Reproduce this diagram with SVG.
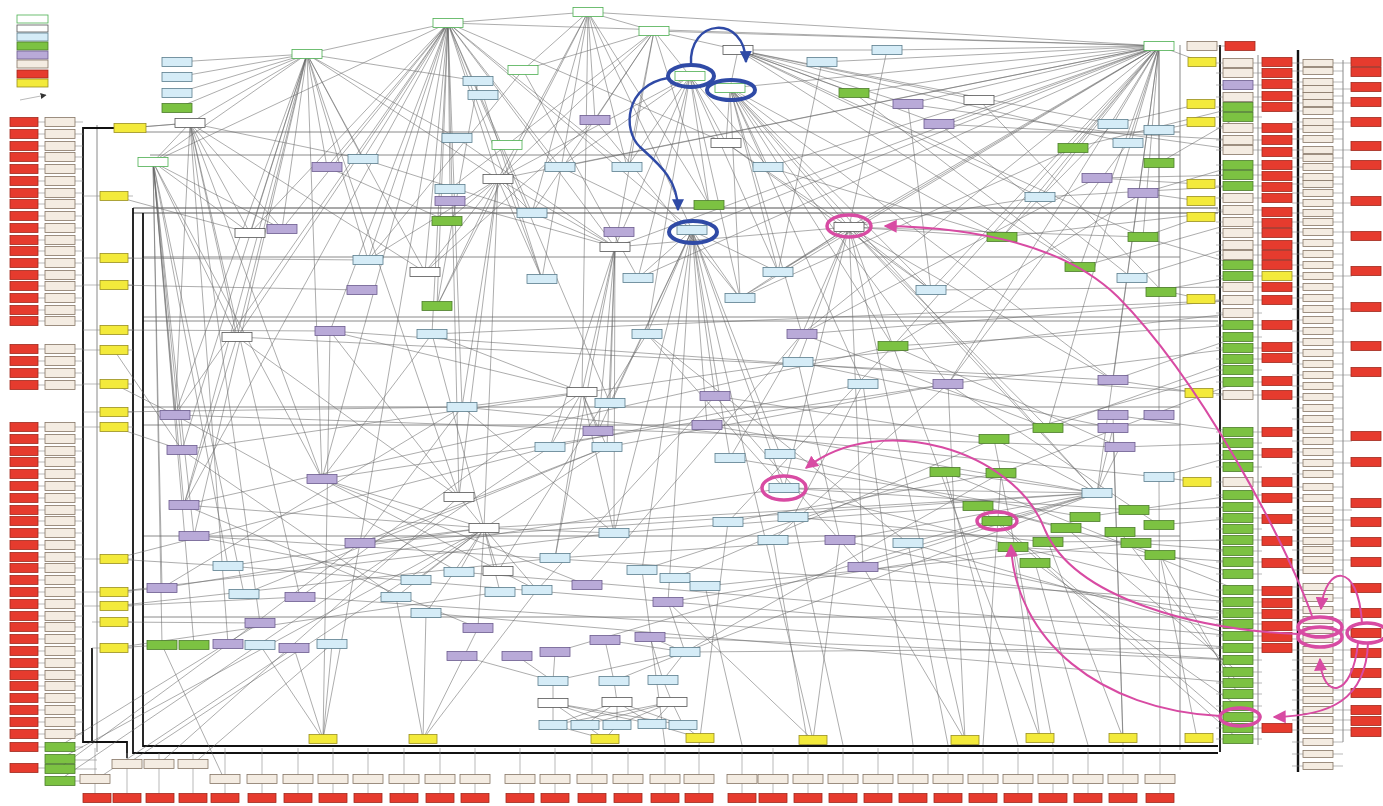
<svg xmlns="http://www.w3.org/2000/svg" width="1383" height="806" viewBox="0 0 1383 806">
<style>
.e{stroke:#666;stroke-width:.6;fill:none;opacity:.9}
.s{stroke:#8c8c8c;stroke-width:.6;fill:none}
.f{stroke:#8a8a8a;stroke-width:1;fill:none}
.fd{stroke:#555;stroke-width:1.1;fill:none}
.k{stroke:#111;stroke-width:1.8;fill:none}
rect{stroke-width:.8}
.gb{fill:#fff;stroke:#4caf50}
.wh{fill:#fff;stroke:#555}
.lb{fill:#d5ecf7;stroke:#5a7d8c}
.gr{fill:#7cc242;stroke:#4d7d2b}
.pu{fill:#b9aad8;stroke:#6b5b8e}
.be{fill:#f4ece2;stroke:#857565}
.rd{fill:#e63b2e;stroke:#a0281d}
.ye{fill:#f3ea3b;stroke:#9a8f20}
.bl{stroke:#2f4aa6;stroke-width:4;fill:none}
.bla{stroke:#2f4aa6;stroke-width:2.4;fill:none}
.mg{stroke:#d84ba3;stroke-width:3.5;fill:none}
.mga{stroke:#d84ba3;stroke-width:2;fill:none}
</style>
<defs>
<marker id="ab" viewBox="0 0 10 10" markerWidth="12" markerHeight="12" refX="9" refY="5" orient="auto" markerUnits="userSpaceOnUse"><path d="M0 0L10 5L0 10z" fill="#2f4aa6"/></marker>
<marker id="am" viewBox="0 0 10 10" markerWidth="13" markerHeight="13" refX="9" refY="5" orient="auto" markerUnits="userSpaceOnUse"><path d="M0 0L10 5L0 10z" fill="#d84ba3"/></marker>
<marker id="ak" viewBox="0 0 10 10" markerWidth="6" markerHeight="6" refX="9" refY="5" orient="auto" markerUnits="userSpaceOnUse"><path d="M0 0L10 5L0 10z" fill="#333"/></marker>
</defs>
<rect width="1383" height="806" fill="#fff"/>

<g id="legend">
<rect class="gb" x="17" y="15" width="31" height="8"/>
<rect class="wh" x="17" y="25" width="31" height="7"/>
<rect class="lb" x="17" y="33" width="31" height="8"/>
<rect class="gr" x="17" y="42" width="31" height="8"/>
<rect class="pu" x="17" y="51" width="31" height="8"/>
<rect class="be" x="17" y="60" width="31" height="8"/>
<rect class="rd" x="17" y="70" width="31" height="8"/>
<rect class="ye" x="17" y="79" width="31" height="8"/>
<path class="s" d="M20 100L46 95" marker-end="url(#ak)"/>
</g>

<g id="connectors">
<path class="f" d="M145 132H1180M150 155H1180M143 257H1180M143 407H1180M143 425H1180M143 536H1180M143 617H1218M143 317H1218M143 321H1218M1180 45V750M97 125V752M1258 55V745M1343 60V742"/>
<path class="fd" d="M133 208H1218M133 213H1218"/>
<path class="k" d="M115 128H83V742H127V758M133 208V753H1218M143 213V746H1218M1220 45V752M92 648V742"/>
<path class="k" style="stroke-width:2.4" d="M1298 50V772"/>
<path class="s" d="M38 122H83M38 134H83M38 146H83M38 157H83M38 169H83M38 181H83M38 193H83M38 204H83M38 216H83M38 228H83M38 240H83M38 251H83M38 263H83M38 275H83M38 286H83M38 298H83M38 310H83M38 321H83M38 349H83M38 361H83M38 373H83M38 385H83M38 427H83M38 439H83M38 451H83M38 462H83M38 474H83M38 486H83M38 498H83M38 510H83M38 521H83M38 533H83M38 545H83M38 557H83M38 568H83M38 580H83M38 592H83M38 604H83M38 616H83M38 627H83M38 639H83M38 651H83M38 663H83M38 675H83M38 686H83M38 698H83M38 710H83M38 722H83M38 734H83M38 747H83M38 768H45M75 760H97M75 769H97M75 781H97"/>
<path class="s" d="M83 196H133M83 258H133M83 285H133M83 330H133M83 350H133M83 384H133M83 412H133M83 427H133M83 559H133M83 592H133M83 606H133M92 622H133M92 648H133"/>
<path class="s" d="M1216 63H1262M1216 73H1262M1216 85H1262M1216 97H1262M1216 107H1262M1216 117H1262M1216 128H1262M1216 140H1262M1216 150H1262M1216 165H1262M1216 175H1262M1216 186H1262M1216 198H1262M1216 210H1262M1216 222H1262M1216 233H1262M1216 245H1262M1216 255H1262M1216 265H1262M1216 276H1262M1216 287H1262M1216 300H1262M1216 313H1262M1216 325H1262M1216 337H1262M1216 348H1262M1216 359H1262M1216 370H1262M1216 382H1262M1216 395H1262M1216 432H1262M1216 443H1262M1216 455H1262M1216 467H1262M1216 482H1262M1216 495H1262M1216 507H1262M1216 518H1262M1216 529H1262M1216 540H1262M1216 551H1262M1216 562H1262M1216 574H1262M1216 590H1262M1216 602H1262M1216 613H1262M1216 624H1262M1216 636H1262M1216 648H1262M1216 660H1262M1216 672H1262M1216 683H1262M1216 694H1262M1216 706H1262M1216 717H1262M1216 728H1262M1216 739H1262M1215 46H1226"/>
<path class="s" d="M1292 63H1352M1292 71H1343M1292 82H1343M1292 89H1352M1292 96H1343M1292 103H1352M1292 111H1343M1292 122H1352M1292 129H1343M1292 139H1343M1292 150H1352M1292 158H1343M1292 167H1352M1292 177H1343M1292 184H1343M1292 193H1343M1292 203H1352M1292 213H1343M1292 222H1343M1292 232H1352M1292 243H1343M1292 254H1343M1292 265H1343M1292 276H1352M1292 287H1343M1292 298H1343M1292 309H1352M1292 320H1343M1292 331H1343M1292 342H1352M1292 353H1343M1292 364H1343M1292 375H1352M1292 386H1343M1292 397H1343M1292 408H1343M1292 419H1343M1292 430H1343M1292 441H1352M1292 452H1343M1292 463H1352M1292 474H1343M1292 487H1343M1292 498H1343M1292 510H1352M1292 520H1352M1292 530H1343M1292 541H1352M1292 550H1343M1292 560H1352M1292 570H1343M1292 587H1352M1292 598H1343M1292 610H1352M1292 620H1343M1292 630H1352M1292 639H1343M1292 650H1352M1292 660H1343M1292 670H1352M1292 680H1343M1292 690H1352M1292 700H1343M1292 710H1352M1292 720H1352M1292 730H1352M1292 742H1343M1292 754H1343M1292 766H1343"/>
<path class="s" d="M95 748V793M127 753V793M159 753V793M193 753V793M225 748V793M262 748V793M298 748V793M333 748V793M368 748V793M404 748V793M440 748V793M475 748V793M520 748V793M555 748V793M592 748V793M628 748V793M665 748V793M699 748V793M742 748V793M773 748V793M808 748V793M843 748V793M878 748V793M913 748V793M948 748V793M983 748V793M1018 748V793M1053 748V793M1088 748V793M1123 748V793M1160 748V793"/>
<path class="e" d="M448 23L307 54M448 23L588 12M448 23L250 233M448 23L282 229M448 23L363 159M448 23L327 167M448 23L425 272M448 23L437 306M448 23L368 260M448 23L498 179M448 23L450 189M448 23L532 213M448 23L560 167M448 23L627 167M448 23L692 230M448 23L615 247M448 23L542 279M448 23L175 415M448 23L322 479M448 23L184 505M448 23L459 497M448 23L237 337M448 23L330 331M448 23L432 334M448 23L610 403M448 23L1159 46M448 23L726 143M448 23L153 162M448 23L462 407M448 23L360 543"/>
<path class="e" d="M1159 46L887 50M1159 46L822 62M1159 46L730 88M1159 46L854 93M1159 46L908 104M1159 46L939 124M1159 46L1073 148M1159 46L1113 124M1159 46L1128 143M1159 46L1040 197M1159 46L1002 237M1159 46L849 227M1159 46L692 230M1159 46L778 272M1159 46L931 290M1159 46L1080 267M1159 46L1143 237M1159 46L893 346M1159 46L802 334M1159 46L948 384M1159 46L1113 380M1159 46L1159 415M1159 46L740 298M1159 46L638 278M1159 46L615 247M1159 46L498 179M1159 46L560 167M1159 46L768 167M1159 46L588 12M1159 46L654 31M1159 46L1097 493M1159 46L1048 428M1159 46L1202 62M1159 46V290"/>
<path class="e" d="M307 54L190 123M307 54L153 162M307 54L250 233M307 54L282 229M307 54L327 167M307 54L363 159M307 54L368 260M307 54L425 272M307 54L237 337M307 54L175 415M307 54L182 450M307 54L322 479M307 54L459 497M307 54L478 81M307 54L457 138M307 54L177 62M307 54L177 77M307 54L177 93M307 54L177 108M307 54L498 179M307 54L184 505M307 54L194 536"/>
<path class="e" d="M588 12L654 31M588 12L523 70M588 12L498 179M588 12L532 213M588 12L595 120M588 12L627 167M588 12L692 230M588 12L709 205M588 12L437 306M588 12L542 279M588 12L582 392"/>
<path class="e" d="M153 162L162 588M153 162L175 415M153 162L182 450M153 162L184 505M153 162L194 536M153 162L228 566M153 162L244 594M153 162L162 645M153 162L194 645M153 162L250 233M153 162L282 229M153 162L237 337M153 162L322 479"/>
<path class="e" d="M190 123L153 162M190 123L237 337M190 123L250 233M190 123L282 229M190 123L175 415M190 123L322 479M190 123L425 272M190 123L128 128M190 123L363 159M190 123L300 597M190 123L260 623M190 123L228 644"/>
<path class="e" d="M690 76L654 31M690 76L726 143M690 76L768 167M690 76L709 205M690 76L627 167M690 76L615 247M690 76L740 298M690 76L638 278M690 76L647 334M690 76L778 272M690 76L560 167M690 76L498 179"/>
<path class="e" d="M730 88L849 227M730 88L778 272M730 88L931 290M730 88L1002 237M730 88L768 167M730 88L740 298M730 88L802 334M730 88L863 384M730 88L948 384M730 88L1097 493M730 88L726 143M730 88L738 50M730 88L893 346M730 88L1113 380"/>
<path class="e" d="M654 31L627 167M654 31L615 247M654 31L709 205M654 31L498 179M654 31L532 213M654 31L450 189M654 31L595 120M654 31L523 70M654 31L738 50"/>
<path class="e" d="M738 50L908 104M738 50L939 124M738 50L1040 197M738 50L1113 124M738 50L1128 143M738 50L1143 237M738 50L1080 267M738 50L887 50M738 50L979 100M738 50L854 93"/>
<path class="e" d="M849 227L778 272M849 227L931 290M849 227L802 334M849 227L893 346M849 227L798 362M849 227L740 298M849 227L615 247M849 227L1002 237M849 227L1097 493M849 227L784 488M849 227L863 567M849 227L1113 380M849 227L1048 428M849 227L965 740M849 227L1143 237"/>
<path class="e" d="M498 179L532 213M498 179L447 221M498 179L437 306M498 179L542 279M498 179L615 247M498 179L462 407M498 179L459 497M498 179L484 528M498 179L425 272M498 179L368 260"/>
<path class="e" d="M692 230L638 278M692 230L740 298M692 230L647 334M692 230L715 396M692 230L707 425M692 230L610 403M692 230L598 431M692 230L614 533M692 230L642 570M692 230L668 602M692 230L730 458M692 230L780 454M692 230L784 488M692 230L813 740"/>
<path class="e" d="M615 247L582 392M615 247L610 403M615 247L598 431M615 247L550 447M615 247L607 447M615 247L555 558M615 247L614 533M615 247L532 213M615 247L450 201"/>
<path class="e" d="M1097 493L784 488M1097 493L863 567M1097 493L908 543M1097 493L840 540M1097 493L945 472M1097 493L994 439M1097 493L1113 428M1097 493L1120 447M1097 493L685 652M1097 493L555 652"/>
<path class="e" d="M484 528L459 497M484 528L459 572M484 528L498 571M484 528L416 580M484 528L396 597M484 528L500 592M484 528L537 590M484 528L478 628M484 528L360 543M484 528L614 533M484 528L1097 493M484 528L426 613M484 528L322 479M484 528L184 505"/>
<path class="e" d="M582 392L550 447M582 392L607 447M582 392L614 533M582 392L555 558M582 392L598 431M582 392L462 407M582 392L432 334"/>
<path class="e" d="M685 652L553 681M685 652L614 681M685 652L663 680M685 652L650 637M685 652L668 602M685 652L1001 473M685 652L605 640"/>
<path class="e" d="M553 681V703M614 681L617 702M663 680L672 702M553 703L553 725M553 703L585 725M553 703L617 725M553 703L652 724M553 703L683 725M617 702L553 725M617 702L585 725M617 702L617 725M617 702L652 724M617 702L683 725M672 702L553 725M672 702L585 725M672 702L617 725M672 702L652 724M672 702L683 725M553 725L605 739M585 725L605 739M617 725L605 739M652 724L700 738M683 725L700 738M555 652L553 681M605 640L614 681M650 637L663 680M517 656L553 681M462 656L553 681"/>
<path class="e" d="M260 645L323 739M332 644L323 739M294 648L323 739M360 543L323 739M330 331L323 739M478 628L423 739M537 590L423 739M396 597L423 739M426 613L423 739M668 602L813 740M840 540L813 740M863 567L965 740M948 384L965 740M1013 547L1040 738M893 346L1040 738M1048 542L1123 738M1113 428L1123 738M1160 555L1197 738"/>
<path class="e" d="M114 559L228 566M114 592L162 588M114 606L300 597M114 622L260 623M114 648L162 645M114 330L330 331M114 350L182 450M114 384L175 415M114 412L462 407M114 427L182 450M114 196L250 233M114 258L368 260M114 285L362 290M128 128L190 123M58 747L260 623M58 760L484 528M58 769L228 644M58 781L550 447M97 779L294 648M127 764L607 447M159 764L459 497M193 764L332 644M225 781L162 645M114 592L614 533M114 606L555 558M114 559L550 447M114 648L500 592"/>
<path class="e" d="M1238 107L1073 148M1238 117L1159 163M1238 165L1143 193M1238 175L1097 178M1238 186L1040 197M1238 265L1143 237M1238 276L1161 290M1238 140L939 124M1238 150L908 104M1238 210L1002 237M1238 222L1080 267M1238 245L1132 278M1238 287L931 290M1238 300L802 334M1238 313L798 362M1238 325L893 346M1238 337L1113 380M1238 348L948 384M1238 359L1048 428M1238 370L994 439M1238 382L1001 473M1238 432L1113 415M1238 443L1120 447M1238 455L1159 477M1238 495L1085 517M1238 507L1134 510M1238 518L1159 525M1238 540L1048 542M1238 551L1136 543M1238 562L1013 547M1238 574L978 506M1238 590L945 472M1238 602L784 488M1238 613L863 567M1238 624L840 540M1238 636L908 543M1238 648L685 652M1238 660L650 637M1238 672L1066 528M1238 683L1120 532M1238 694L1160 555M1238 706L1035 563M1238 728L997 521M1238 739L978 506"/>
<path class="e" d="M1201 299L1161 290M1199 393L1113 380M1197 482L1159 477M1200 217L1143 237M1200 122L1159 130M1200 104L1113 124M1200 184L1097 178M1200 201L1143 193"/>
<path class="e" d="M237 337L1113 380M175 415L1120 447M330 331L1238 395M432 334L1238 300M462 407L1159 477M360 543L1097 493M194 536L1238 602M162 588L784 488M228 566L1238 648M300 597L1238 660M426 613L1238 683M459 572L1238 636M182 450L798 362M322 479L948 384M184 505L893 346M642 570L665 745M705 586L742 745M773 540L808 745M1035 563L1088 745M793 517L843 745M728 522L699 745M908 543L948 745"/>
<path class="e" d="M330 331L582 392M330 331L459 497M237 337L459 497M237 337L184 505M432 334L322 479M432 334L484 528M462 407L360 543M462 407L614 533M175 415L459 572M182 450L396 597M322 479L587 585M322 479L537 590M184 505L478 628M194 536L416 580M360 543L607 447M360 543L228 644M228 566L484 528M244 594L607 447M300 597L582 392M162 588L462 407M647 334L784 488M647 334L908 543M715 396L863 567M715 396L994 439M707 425L1097 493M802 334L730 458M802 334L1048 428M798 362L840 540M798 362L1113 428M863 384L793 517M948 384L773 540M948 384L1159 525M893 346L728 522M893 346L1120 447M730 458L1085 517M780 454L1066 528M784 488L1134 510M793 517L1048 542M728 522L1001 473M642 570L945 472M675 578L994 439M705 586L1136 543M668 602L1013 547M614 533L978 506M550 447L863 384M607 447L948 384M555 558L840 540M587 585L802 334M537 590L715 396M498 571L647 334"/>
<path class="e" d="M363 159L532 213M327 167L447 221M457 138L615 247M478 81L437 306M483 95L542 279M523 70L368 260M523 70L638 278M595 120L425 272M595 120L740 298M560 167L778 272M726 143L849 227M726 143L931 290M768 167L1002 237M822 62L778 272M887 50L849 227M854 93L1080 267M908 104L931 290M939 124L1132 278M979 100L1161 290M1040 197L849 227M1113 124L1002 237M1073 148L740 298M1097 178L802 334M1143 193L893 346M1128 143L948 384M945 472L1018 745M994 439L1053 745M863 384L913 745M1113 415L1123 745M1001 473L983 745M1159 477L1160 745"/>
</g>

<g id="nodes">
<g id="u1" transform="translate(588,12)"><rect class="gb" x="-15" y="-4.5" width="30" height="9"/></g>
<g id="u2" transform="translate(448,23)"><rect class="gb" x="-15" y="-4.5" width="30" height="9"/></g>
<g id="u3" transform="translate(654,31)"><rect class="gb" x="-15" y="-4.5" width="30" height="9"/></g>
<g id="u4" transform="translate(307,54)"><rect class="gb" x="-15" y="-4.5" width="30" height="9"/></g>
<g id="u5" transform="translate(523,70)"><rect class="gb" x="-15" y="-4.5" width="30" height="9"/></g>
<g id="u6" transform="translate(1159,46)"><rect class="gb" x="-15" y="-4.5" width="30" height="9"/></g>
<g id="u7" transform="translate(153,162)"><rect class="gb" x="-15" y="-4.5" width="30" height="9"/></g>
<g id="u8" transform="translate(507,145)"><rect class="gb" x="-15" y="-4.5" width="30" height="9"/></g>
<g id="u9" transform="translate(690,76)"><rect class="gb" x="-15" y="-4.5" width="30" height="9"/></g>
<g id="u10" transform="translate(730,88)"><rect class="gb" x="-15" y="-4.5" width="30" height="9"/></g>
<g id="u11" transform="translate(738,50)"><rect class="wh" x="-15" y="-4.5" width="30" height="9"/></g>
<g id="u12" transform="translate(190,123)"><rect class="wh" x="-15" y="-4.5" width="30" height="9"/></g>
<g id="u13" transform="translate(498,179)"><rect class="wh" x="-15" y="-4.5" width="30" height="9"/></g>
<g id="u14" transform="translate(726,143)"><rect class="wh" x="-15" y="-4.5" width="30" height="9"/></g>
<g id="u15" transform="translate(979,100)"><rect class="wh" x="-15" y="-4.5" width="30" height="9"/></g>
<g id="u16" transform="translate(177,62)"><rect class="lb" x="-15" y="-4.5" width="30" height="9"/></g>
<g id="u17" transform="translate(177,77)"><rect class="lb" x="-15" y="-4.5" width="30" height="9"/></g>
<g id="u18" transform="translate(177,93)"><rect class="lb" x="-15" y="-4.5" width="30" height="9"/></g>
<g id="u19" transform="translate(887,50)"><rect class="lb" x="-15" y="-4.5" width="30" height="9"/></g>
<g id="u20" transform="translate(822,62)"><rect class="lb" x="-15" y="-4.5" width="30" height="9"/></g>
<g id="u21" transform="translate(478,81)"><rect class="lb" x="-15" y="-4.5" width="30" height="9"/></g>
<g id="u22" transform="translate(483,95)"><rect class="lb" x="-15" y="-4.5" width="30" height="9"/></g>
<g id="u23" transform="translate(457,138)"><rect class="lb" x="-15" y="-4.5" width="30" height="9"/></g>
<g id="u24" transform="translate(363,159)"><rect class="lb" x="-15" y="-4.5" width="30" height="9"/></g>
<g id="u25" transform="translate(560,167)"><rect class="lb" x="-15" y="-4.5" width="30" height="9"/></g>
<g id="u26" transform="translate(450,189)"><rect class="lb" x="-15" y="-4.5" width="30" height="9"/></g>
<g id="u27" transform="translate(627,167)"><rect class="lb" x="-15" y="-4.5" width="30" height="9"/></g>
<g id="u28" transform="translate(768,167)"><rect class="lb" x="-15" y="-4.5" width="30" height="9"/></g>
<g id="u29" transform="translate(1113,124)"><rect class="lb" x="-15" y="-4.5" width="30" height="9"/></g>
<g id="u30" transform="translate(1159,130)"><rect class="lb" x="-15" y="-4.5" width="30" height="9"/></g>
<g id="u31" transform="translate(1128,143)"><rect class="lb" x="-15" y="-4.5" width="30" height="9"/></g>
<g id="u32" transform="translate(1040,197)"><rect class="lb" x="-15" y="-4.5" width="30" height="9"/></g>
<g id="u33" transform="translate(177,108)"><rect class="gr" x="-15" y="-4.5" width="30" height="9"/></g>
<g id="u34" transform="translate(854,93)"><rect class="gr" x="-15" y="-4.5" width="30" height="9"/></g>
<g id="u35" transform="translate(1073,148)"><rect class="gr" x="-15" y="-4.5" width="30" height="9"/></g>
<g id="u36" transform="translate(1159,163)"><rect class="gr" x="-15" y="-4.5" width="30" height="9"/></g>
<g id="u37" transform="translate(709,205)"><rect class="gr" x="-15" y="-4.5" width="30" height="9"/></g>
<g id="u38" transform="translate(595,120)"><rect class="pu" x="-15" y="-4.5" width="30" height="9"/></g>
<g id="u39" transform="translate(908,104)"><rect class="pu" x="-15" y="-4.5" width="30" height="9"/></g>
<g id="u40" transform="translate(939,124)"><rect class="pu" x="-15" y="-4.5" width="30" height="9"/></g>
<g id="u41" transform="translate(327,167)"><rect class="pu" x="-15" y="-4.5" width="30" height="9"/></g>
<g id="u42" transform="translate(450,201)"><rect class="pu" x="-15" y="-4.5" width="30" height="9"/></g>
<g id="u43" transform="translate(1097,178)"><rect class="pu" x="-15" y="-4.5" width="30" height="9"/></g>
<g id="u44" transform="translate(1143,193)"><rect class="pu" x="-15" y="-4.5" width="30" height="9"/></g>
<g id="m1" transform="translate(532,213)"><rect class="lb" x="-15" y="-4.5" width="30" height="9"/></g>
<g id="m2" transform="translate(368,260)"><rect class="lb" x="-15" y="-4.5" width="30" height="9"/></g>
<g id="m3" transform="translate(542,279)"><rect class="lb" x="-15" y="-4.5" width="30" height="9"/></g>
<g id="m4" transform="translate(638,278)"><rect class="lb" x="-15" y="-4.5" width="30" height="9"/></g>
<g id="m5" transform="translate(778,272)"><rect class="lb" x="-15" y="-4.5" width="30" height="9"/></g>
<g id="m6" transform="translate(740,298)"><rect class="lb" x="-15" y="-4.5" width="30" height="9"/></g>
<g id="m7" transform="translate(931,290)"><rect class="lb" x="-15" y="-4.5" width="30" height="9"/></g>
<g id="m8" transform="translate(1132,278)"><rect class="lb" x="-15" y="-4.5" width="30" height="9"/></g>
<g id="m9" transform="translate(692,230)"><rect class="lb" x="-15" y="-4.5" width="30" height="9"/></g>
<g id="m10" transform="translate(250,233)"><rect class="wh" x="-15" y="-4.5" width="30" height="9"/></g>
<g id="m11" transform="translate(425,272)"><rect class="wh" x="-15" y="-4.5" width="30" height="9"/></g>
<g id="m12" transform="translate(615,247)"><rect class="wh" x="-15" y="-4.5" width="30" height="9"/></g>
<g id="m13" transform="translate(849,227)"><rect class="wh" x="-15" y="-4.5" width="30" height="9"/></g>
<g id="m14" transform="translate(282,229)"><rect class="pu" x="-15" y="-4.5" width="30" height="9"/></g>
<g id="m15" transform="translate(362,290)"><rect class="pu" x="-15" y="-4.5" width="30" height="9"/></g>
<g id="m16" transform="translate(619,232)"><rect class="pu" x="-15" y="-4.5" width="30" height="9"/></g>
<g id="m17" transform="translate(447,221)"><rect class="gr" x="-15" y="-4.5" width="30" height="9"/></g>
<g id="m18" transform="translate(437,306)"><rect class="gr" x="-15" y="-4.5" width="30" height="9"/></g>
<g id="m19" transform="translate(1002,237)"><rect class="gr" x="-15" y="-4.5" width="30" height="9"/></g>
<g id="m20" transform="translate(1143,237)"><rect class="gr" x="-15" y="-4.5" width="30" height="9"/></g>
<g id="m21" transform="translate(1080,267)"><rect class="gr" x="-15" y="-4.5" width="30" height="9"/></g>
<g id="m22" transform="translate(1161,292)"><rect class="gr" x="-15" y="-4.5" width="30" height="9"/></g>
<g id="l1" transform="translate(330,331)"><rect class="pu" x="-15" y="-4.5" width="30" height="9"/></g>
<g id="l2" transform="translate(175,415)"><rect class="pu" x="-15" y="-4.5" width="30" height="9"/></g>
<g id="l3" transform="translate(182,450)"><rect class="pu" x="-15" y="-4.5" width="30" height="9"/></g>
<g id="l4" transform="translate(322,479)"><rect class="pu" x="-15" y="-4.5" width="30" height="9"/></g>
<g id="l5" transform="translate(598,431)"><rect class="pu" x="-15" y="-4.5" width="30" height="9"/></g>
<g id="l6" transform="translate(184,505)"><rect class="pu" x="-15" y="-4.5" width="30" height="9"/></g>
<g id="l7" transform="translate(194,536)"><rect class="pu" x="-15" y="-4.5" width="30" height="9"/></g>
<g id="l8" transform="translate(360,543)"><rect class="pu" x="-15" y="-4.5" width="30" height="9"/></g>
<g id="l9" transform="translate(300,597)"><rect class="pu" x="-15" y="-4.5" width="30" height="9"/></g>
<g id="l10" transform="translate(162,588)"><rect class="pu" x="-15" y="-4.5" width="30" height="9"/></g>
<g id="l11" transform="translate(587,585)"><rect class="pu" x="-15" y="-4.5" width="30" height="9"/></g>
<g id="l12" transform="translate(260,623)"><rect class="pu" x="-15" y="-4.5" width="30" height="9"/></g>
<g id="l13" transform="translate(478,628)"><rect class="pu" x="-15" y="-4.5" width="30" height="9"/></g>
<g id="l14" transform="translate(605,640)"><rect class="pu" x="-15" y="-4.5" width="30" height="9"/></g>
<g id="l15" transform="translate(802,334)"><rect class="pu" x="-15" y="-4.5" width="30" height="9"/></g>
<g id="l16" transform="translate(948,384)"><rect class="pu" x="-15" y="-4.5" width="30" height="9"/></g>
<g id="l17" transform="translate(715,396)"><rect class="pu" x="-15" y="-4.5" width="30" height="9"/></g>
<g id="l18" transform="translate(707,425)"><rect class="pu" x="-15" y="-4.5" width="30" height="9"/></g>
<g id="l19" transform="translate(840,540)"><rect class="pu" x="-15" y="-4.5" width="30" height="9"/></g>
<g id="l20" transform="translate(863,567)"><rect class="pu" x="-15" y="-4.5" width="30" height="9"/></g>
<g id="l21" transform="translate(668,602)"><rect class="pu" x="-15" y="-4.5" width="30" height="9"/></g>
<g id="l22" transform="translate(1113,380)"><rect class="pu" x="-15" y="-4.5" width="30" height="9"/></g>
<g id="l23" transform="translate(1113,415)"><rect class="pu" x="-15" y="-4.5" width="30" height="9"/></g>
<g id="l24" transform="translate(1159,415)"><rect class="pu" x="-15" y="-4.5" width="30" height="9"/></g>
<g id="l25" transform="translate(1113,428)"><rect class="pu" x="-15" y="-4.5" width="30" height="9"/></g>
<g id="l26" transform="translate(1120,447)"><rect class="pu" x="-15" y="-4.5" width="30" height="9"/></g>
<g id="l27" transform="translate(237,337)"><rect class="wh" x="-15" y="-4.5" width="30" height="9"/></g>
<g id="l28" transform="translate(582,392)"><rect class="wh" x="-15" y="-4.5" width="30" height="9"/></g>
<g id="l29" transform="translate(459,497)"><rect class="wh" x="-15" y="-4.5" width="30" height="9"/></g>
<g id="l30" transform="translate(484,528)"><rect class="wh" x="-15" y="-4.5" width="30" height="9"/></g>
<g id="l31" transform="translate(498,571)"><rect class="wh" x="-15" y="-4.5" width="30" height="9"/></g>
<g id="l32" transform="translate(432,334)"><rect class="lb" x="-15" y="-4.5" width="30" height="9"/></g>
<g id="l33" transform="translate(462,407)"><rect class="lb" x="-15" y="-4.5" width="30" height="9"/></g>
<g id="l34" transform="translate(610,403)"><rect class="lb" x="-15" y="-4.5" width="30" height="9"/></g>
<g id="l35" transform="translate(550,447)"><rect class="lb" x="-15" y="-4.5" width="30" height="9"/></g>
<g id="l36" transform="translate(607,447)"><rect class="lb" x="-15" y="-4.5" width="30" height="9"/></g>
<g id="l37" transform="translate(614,533)"><rect class="lb" x="-15" y="-4.5" width="30" height="9"/></g>
<g id="l38" transform="translate(228,566)"><rect class="lb" x="-15" y="-4.5" width="30" height="9"/></g>
<g id="l39" transform="translate(555,558)"><rect class="lb" x="-15" y="-4.5" width="30" height="9"/></g>
<g id="l40" transform="translate(459,572)"><rect class="lb" x="-15" y="-4.5" width="30" height="9"/></g>
<g id="l41" transform="translate(416,580)"><rect class="lb" x="-15" y="-4.5" width="30" height="9"/></g>
<g id="l42" transform="translate(396,597)"><rect class="lb" x="-15" y="-4.5" width="30" height="9"/></g>
<g id="l43" transform="translate(244,594)"><rect class="lb" x="-15" y="-4.5" width="30" height="9"/></g>
<g id="l44" transform="translate(500,592)"><rect class="lb" x="-15" y="-4.5" width="30" height="9"/></g>
<g id="l45" transform="translate(537,590)"><rect class="lb" x="-15" y="-4.5" width="30" height="9"/></g>
<g id="l46" transform="translate(426,613)"><rect class="lb" x="-15" y="-4.5" width="30" height="9"/></g>
<g id="l47" transform="translate(647,334)"><rect class="lb" x="-15" y="-4.5" width="30" height="9"/></g>
<g id="l48" transform="translate(798,362)"><rect class="lb" x="-15" y="-4.5" width="30" height="9"/></g>
<g id="l49" transform="translate(863,384)"><rect class="lb" x="-15" y="-4.5" width="30" height="9"/></g>
<g id="l50" transform="translate(730,458)"><rect class="lb" x="-15" y="-4.5" width="30" height="9"/></g>
<g id="l51" transform="translate(780,454)"><rect class="lb" x="-15" y="-4.5" width="30" height="9"/></g>
<g id="l52" transform="translate(784,488)"><rect class="lb" x="-15" y="-4.5" width="30" height="9"/></g>
<g id="l53" transform="translate(793,517)"><rect class="lb" x="-15" y="-4.5" width="30" height="9"/></g>
<g id="l54" transform="translate(728,522)"><rect class="lb" x="-15" y="-4.5" width="30" height="9"/></g>
<g id="l55" transform="translate(773,540)"><rect class="lb" x="-15" y="-4.5" width="30" height="9"/></g>
<g id="l56" transform="translate(908,543)"><rect class="lb" x="-15" y="-4.5" width="30" height="9"/></g>
<g id="l57" transform="translate(642,570)"><rect class="lb" x="-15" y="-4.5" width="30" height="9"/></g>
<g id="l58" transform="translate(675,578)"><rect class="lb" x="-15" y="-4.5" width="30" height="9"/></g>
<g id="l59" transform="translate(705,586)"><rect class="lb" x="-15" y="-4.5" width="30" height="9"/></g>
<g id="l60" transform="translate(1159,477)"><rect class="lb" x="-15" y="-4.5" width="30" height="9"/></g>
<g id="l61" transform="translate(1097,493)"><rect class="lb" x="-15" y="-4.5" width="30" height="9"/></g>
<g id="l62" transform="translate(893,346)"><rect class="gr" x="-15" y="-4.5" width="30" height="9"/></g>
<g id="l63" transform="translate(1048,428)"><rect class="gr" x="-15" y="-4.5" width="30" height="9"/></g>
<g id="l64" transform="translate(994,439)"><rect class="gr" x="-15" y="-4.5" width="30" height="9"/></g>
<g id="l65" transform="translate(945,472)"><rect class="gr" x="-15" y="-4.5" width="30" height="9"/></g>
<g id="l66" transform="translate(1001,473)"><rect class="gr" x="-15" y="-4.5" width="30" height="9"/></g>
<g id="l67" transform="translate(978,506)"><rect class="gr" x="-15" y="-4.5" width="30" height="9"/></g>
<g id="l68" transform="translate(997,521)"><rect class="gr" x="-15" y="-4.5" width="30" height="9"/></g>
<g id="l69" transform="translate(1085,517)"><rect class="gr" x="-15" y="-4.5" width="30" height="9"/></g>
<g id="l70" transform="translate(1134,510)"><rect class="gr" x="-15" y="-4.5" width="30" height="9"/></g>
<g id="l71" transform="translate(1159,525)"><rect class="gr" x="-15" y="-4.5" width="30" height="9"/></g>
<g id="l72" transform="translate(1066,528)"><rect class="gr" x="-15" y="-4.5" width="30" height="9"/></g>
<g id="l73" transform="translate(1120,532)"><rect class="gr" x="-15" y="-4.5" width="30" height="9"/></g>
<g id="l74" transform="translate(1048,542)"><rect class="gr" x="-15" y="-4.5" width="30" height="9"/></g>
<g id="l75" transform="translate(1136,543)"><rect class="gr" x="-15" y="-4.5" width="30" height="9"/></g>
<g id="l76" transform="translate(1013,547)"><rect class="gr" x="-15" y="-4.5" width="30" height="9"/></g>
<g id="l77" transform="translate(1035,563)"><rect class="gr" x="-15" y="-4.5" width="30" height="9"/></g>
<g id="l78" transform="translate(1160,555)"><rect class="gr" x="-15" y="-4.5" width="30" height="9"/></g>
<g id="b1" transform="translate(162,645)"><rect class="gr" x="-15" y="-4.5" width="30" height="9"/></g>
<g id="b2" transform="translate(194,645)"><rect class="gr" x="-15" y="-4.5" width="30" height="9"/></g>
<g id="b3" transform="translate(228,644)"><rect class="pu" x="-15" y="-4.5" width="30" height="9"/></g>
<g id="b4" transform="translate(260,645)"><rect class="lb" x="-15" y="-4.5" width="30" height="9"/></g>
<g id="b5" transform="translate(294,648)"><rect class="pu" x="-15" y="-4.5" width="30" height="9"/></g>
<g id="b6" transform="translate(332,644)"><rect class="lb" x="-15" y="-4.5" width="30" height="9"/></g>
<g id="b7" transform="translate(462,656)"><rect class="pu" x="-15" y="-4.5" width="30" height="9"/></g>
<g id="b8" transform="translate(517,656)"><rect class="pu" x="-15" y="-4.5" width="30" height="9"/></g>
<g id="b9" transform="translate(555,652)"><rect class="pu" x="-15" y="-4.5" width="30" height="9"/></g>
<g id="b10" transform="translate(650,637)"><rect class="pu" x="-15" y="-4.5" width="30" height="9"/></g>
<g id="b11" transform="translate(685,652)"><rect class="lb" x="-15" y="-4.5" width="30" height="9"/></g>
<g id="b12" transform="translate(553,681)"><rect class="lb" x="-15" y="-4.5" width="30" height="9"/></g>
<g id="b13" transform="translate(614,681)"><rect class="lb" x="-15" y="-4.5" width="30" height="9"/></g>
<g id="b14" transform="translate(663,680)"><rect class="lb" x="-15" y="-4.5" width="30" height="9"/></g>
<g id="b15" transform="translate(553,703)"><rect class="wh" x="-15" y="-4.5" width="30" height="9"/></g>
<g id="b16" transform="translate(617,702)"><rect class="wh" x="-15" y="-4.5" width="30" height="9"/></g>
<g id="b17" transform="translate(672,702)"><rect class="wh" x="-15" y="-4.5" width="30" height="9"/></g>
<g id="b18" transform="translate(553,725)"><rect class="lb" x="-14" y="-4.5" width="28" height="9"/></g>
<g id="b19" transform="translate(585,725)"><rect class="lb" x="-14" y="-4.5" width="28" height="9"/></g>
<g id="b20" transform="translate(617,725)"><rect class="lb" x="-14" y="-4.5" width="28" height="9"/></g>
<g id="b21" transform="translate(652,724)"><rect class="lb" x="-14" y="-4.5" width="28" height="9"/></g>
<g id="b22" transform="translate(683,725)"><rect class="lb" x="-14" y="-4.5" width="28" height="9"/></g>
<g id="y1" transform="translate(130,128)"><rect class="ye" x="-16" y="-4.5" width="32" height="9"/></g>
<g id="y2" transform="translate(114,196)"><rect class="ye" x="-14" y="-4.5" width="28" height="9"/></g>
<g id="y3" transform="translate(114,258)"><rect class="ye" x="-14" y="-4.5" width="28" height="9"/></g>
<g id="y4" transform="translate(114,285)"><rect class="ye" x="-14" y="-4.5" width="28" height="9"/></g>
<g id="y5" transform="translate(114,330)"><rect class="ye" x="-14" y="-4.5" width="28" height="9"/></g>
<g id="y6" transform="translate(114,350)"><rect class="ye" x="-14" y="-4.5" width="28" height="9"/></g>
<g id="y7" transform="translate(114,384)"><rect class="ye" x="-14" y="-4.5" width="28" height="9"/></g>
<g id="y8" transform="translate(114,412)"><rect class="ye" x="-14" y="-4.5" width="28" height="9"/></g>
<g id="y9" transform="translate(114,427)"><rect class="ye" x="-14" y="-4.5" width="28" height="9"/></g>
<g id="y10" transform="translate(114,559)"><rect class="ye" x="-14" y="-4.5" width="28" height="9"/></g>
<g id="y11" transform="translate(114,592)"><rect class="ye" x="-14" y="-4.5" width="28" height="9"/></g>
<g id="y12" transform="translate(114,606)"><rect class="ye" x="-14" y="-4.5" width="28" height="9"/></g>
<g id="y13" transform="translate(114,622)"><rect class="ye" x="-14" y="-4.5" width="28" height="9"/></g>
<g id="y14" transform="translate(114,648)"><rect class="ye" x="-14" y="-4.5" width="28" height="9"/></g>
<g id="y15" transform="translate(323,739)"><rect class="ye" x="-14" y="-4.5" width="28" height="9"/></g>
<g id="y16" transform="translate(423,739)"><rect class="ye" x="-14" y="-4.5" width="28" height="9"/></g>
<g id="y17" transform="translate(605,739)"><rect class="ye" x="-14" y="-4.5" width="28" height="9"/></g>
<g id="y18" transform="translate(700,738)"><rect class="ye" x="-14" y="-4.5" width="28" height="9"/></g>
<g id="y19" transform="translate(813,740)"><rect class="ye" x="-14" y="-4.5" width="28" height="9"/></g>
<g id="y20" transform="translate(965,740)"><rect class="ye" x="-14" y="-4.5" width="28" height="9"/></g>
<g id="y21" transform="translate(1040,738)"><rect class="ye" x="-14" y="-4.5" width="28" height="9"/></g>
<g id="y22" transform="translate(1123,738)"><rect class="ye" x="-14" y="-4.5" width="28" height="9"/></g>
<g id="y23" transform="translate(1199,738)"><rect class="ye" x="-14" y="-4.5" width="28" height="9"/></g>
<g id="y24" transform="translate(1202,62)"><rect class="ye" x="-14" y="-4.5" width="28" height="9"/></g>
<g id="y25" transform="translate(1201,104)"><rect class="ye" x="-14" y="-4.5" width="28" height="9"/></g>
<g id="y26" transform="translate(1201,122)"><rect class="ye" x="-14" y="-4.5" width="28" height="9"/></g>
<g id="y27" transform="translate(1201,184)"><rect class="ye" x="-14" y="-4.5" width="28" height="9"/></g>
<g id="y28" transform="translate(1201,201)"><rect class="ye" x="-14" y="-4.5" width="28" height="9"/></g>
<g id="y29" transform="translate(1201,217)"><rect class="ye" x="-14" y="-4.5" width="28" height="9"/></g>
<g id="y30" transform="translate(1201,299)"><rect class="ye" x="-14" y="-4.5" width="28" height="9"/></g>
<g id="y31" transform="translate(1199,393)"><rect class="ye" x="-14" y="-4.5" width="28" height="9"/></g>
<g id="y32" transform="translate(1197,482)"><rect class="ye" x="-14" y="-4.5" width="28" height="9"/></g>

<g id="la1" transform="translate(24,122)"><rect class="rd" x="-14" y="-4.5" width="28" height="9"/></g>
<g id="la2" transform="translate(24,134)"><rect class="rd" x="-14" y="-4.5" width="28" height="9"/></g>
<g id="la3" transform="translate(24,146)"><rect class="rd" x="-14" y="-4.5" width="28" height="9"/></g>
<g id="la4" transform="translate(24,157)"><rect class="rd" x="-14" y="-4.5" width="28" height="9"/></g>
<g id="la5" transform="translate(24,169)"><rect class="rd" x="-14" y="-4.5" width="28" height="9"/></g>
<g id="la6" transform="translate(24,181)"><rect class="rd" x="-14" y="-4.5" width="28" height="9"/></g>
<g id="la7" transform="translate(24,193)"><rect class="rd" x="-14" y="-4.5" width="28" height="9"/></g>
<g id="la8" transform="translate(24,204)"><rect class="rd" x="-14" y="-4.5" width="28" height="9"/></g>
<g id="la9" transform="translate(24,216)"><rect class="rd" x="-14" y="-4.5" width="28" height="9"/></g>
<g id="la10" transform="translate(24,228)"><rect class="rd" x="-14" y="-4.5" width="28" height="9"/></g>
<g id="la11" transform="translate(24,240)"><rect class="rd" x="-14" y="-4.5" width="28" height="9"/></g>
<g id="la12" transform="translate(24,251)"><rect class="rd" x="-14" y="-4.5" width="28" height="9"/></g>
<g id="la13" transform="translate(24,263)"><rect class="rd" x="-14" y="-4.5" width="28" height="9"/></g>
<g id="la14" transform="translate(24,275)"><rect class="rd" x="-14" y="-4.5" width="28" height="9"/></g>
<g id="la15" transform="translate(24,286)"><rect class="rd" x="-14" y="-4.5" width="28" height="9"/></g>
<g id="la16" transform="translate(24,298)"><rect class="rd" x="-14" y="-4.5" width="28" height="9"/></g>
<g id="la17" transform="translate(24,310)"><rect class="rd" x="-14" y="-4.5" width="28" height="9"/></g>
<g id="la18" transform="translate(24,321)"><rect class="rd" x="-14" y="-4.5" width="28" height="9"/></g>
<g id="la19" transform="translate(24,349)"><rect class="rd" x="-14" y="-4.5" width="28" height="9"/></g>
<g id="la20" transform="translate(24,361)"><rect class="rd" x="-14" y="-4.5" width="28" height="9"/></g>
<g id="la21" transform="translate(24,373)"><rect class="rd" x="-14" y="-4.5" width="28" height="9"/></g>
<g id="la22" transform="translate(24,385)"><rect class="rd" x="-14" y="-4.5" width="28" height="9"/></g>
<g id="la23" transform="translate(24,427)"><rect class="rd" x="-14" y="-4.5" width="28" height="9"/></g>
<g id="la24" transform="translate(24,439)"><rect class="rd" x="-14" y="-4.5" width="28" height="9"/></g>
<g id="la25" transform="translate(24,451)"><rect class="rd" x="-14" y="-4.5" width="28" height="9"/></g>
<g id="la26" transform="translate(24,462)"><rect class="rd" x="-14" y="-4.5" width="28" height="9"/></g>
<g id="la27" transform="translate(24,474)"><rect class="rd" x="-14" y="-4.5" width="28" height="9"/></g>
<g id="la28" transform="translate(24,486)"><rect class="rd" x="-14" y="-4.5" width="28" height="9"/></g>
<g id="la29" transform="translate(24,498)"><rect class="rd" x="-14" y="-4.5" width="28" height="9"/></g>
<g id="la30" transform="translate(24,510)"><rect class="rd" x="-14" y="-4.5" width="28" height="9"/></g>
<g id="la31" transform="translate(24,521)"><rect class="rd" x="-14" y="-4.5" width="28" height="9"/></g>
<g id="la32" transform="translate(24,533)"><rect class="rd" x="-14" y="-4.5" width="28" height="9"/></g>
<g id="la33" transform="translate(24,545)"><rect class="rd" x="-14" y="-4.5" width="28" height="9"/></g>
<g id="la34" transform="translate(24,557)"><rect class="rd" x="-14" y="-4.5" width="28" height="9"/></g>
<g id="la35" transform="translate(24,568)"><rect class="rd" x="-14" y="-4.5" width="28" height="9"/></g>
<g id="la36" transform="translate(24,580)"><rect class="rd" x="-14" y="-4.5" width="28" height="9"/></g>
<g id="la37" transform="translate(24,592)"><rect class="rd" x="-14" y="-4.5" width="28" height="9"/></g>
<g id="la38" transform="translate(24,604)"><rect class="rd" x="-14" y="-4.5" width="28" height="9"/></g>
<g id="la39" transform="translate(24,616)"><rect class="rd" x="-14" y="-4.5" width="28" height="9"/></g>
<g id="la40" transform="translate(24,627)"><rect class="rd" x="-14" y="-4.5" width="28" height="9"/></g>
<g id="la41" transform="translate(24,639)"><rect class="rd" x="-14" y="-4.5" width="28" height="9"/></g>
<g id="la42" transform="translate(24,651)"><rect class="rd" x="-14" y="-4.5" width="28" height="9"/></g>
<g id="la43" transform="translate(24,663)"><rect class="rd" x="-14" y="-4.5" width="28" height="9"/></g>
<g id="la44" transform="translate(24,675)"><rect class="rd" x="-14" y="-4.5" width="28" height="9"/></g>
<g id="la45" transform="translate(24,686)"><rect class="rd" x="-14" y="-4.5" width="28" height="9"/></g>
<g id="la46" transform="translate(24,698)"><rect class="rd" x="-14" y="-4.5" width="28" height="9"/></g>
<g id="la47" transform="translate(24,710)"><rect class="rd" x="-14" y="-4.5" width="28" height="9"/></g>
<g id="la48" transform="translate(24,722)"><rect class="rd" x="-14" y="-4.5" width="28" height="9"/></g>
<g id="la49" transform="translate(24,734)"><rect class="rd" x="-14" y="-4.5" width="28" height="9"/></g>
<g id="la50" transform="translate(24,747)"><rect class="rd" x="-14" y="-4.5" width="28" height="9"/></g>
<g id="la51" transform="translate(24,768)"><rect class="rd" x="-14" y="-4.5" width="28" height="9"/></g>

<g id="lb1" transform="translate(60,122)"><rect class="be" x="-15" y="-4.5" width="30" height="9"/></g>
<g id="lb2" transform="translate(60,134)"><rect class="be" x="-15" y="-4.5" width="30" height="9"/></g>
<g id="lb3" transform="translate(60,146)"><rect class="be" x="-15" y="-4.5" width="30" height="9"/></g>
<g id="lb4" transform="translate(60,157)"><rect class="be" x="-15" y="-4.5" width="30" height="9"/></g>
<g id="lb5" transform="translate(60,169)"><rect class="be" x="-15" y="-4.5" width="30" height="9"/></g>
<g id="lb6" transform="translate(60,181)"><rect class="be" x="-15" y="-4.5" width="30" height="9"/></g>
<g id="lb7" transform="translate(60,193)"><rect class="be" x="-15" y="-4.5" width="30" height="9"/></g>
<g id="lb8" transform="translate(60,204)"><rect class="be" x="-15" y="-4.5" width="30" height="9"/></g>
<g id="lb9" transform="translate(60,216)"><rect class="be" x="-15" y="-4.5" width="30" height="9"/></g>
<g id="lb10" transform="translate(60,228)"><rect class="be" x="-15" y="-4.5" width="30" height="9"/></g>
<g id="lb11" transform="translate(60,240)"><rect class="be" x="-15" y="-4.5" width="30" height="9"/></g>
<g id="lb12" transform="translate(60,251)"><rect class="be" x="-15" y="-4.5" width="30" height="9"/></g>
<g id="lb13" transform="translate(60,263)"><rect class="be" x="-15" y="-4.5" width="30" height="9"/></g>
<g id="lb14" transform="translate(60,275)"><rect class="be" x="-15" y="-4.5" width="30" height="9"/></g>
<g id="lb15" transform="translate(60,286)"><rect class="be" x="-15" y="-4.5" width="30" height="9"/></g>
<g id="lb16" transform="translate(60,298)"><rect class="be" x="-15" y="-4.5" width="30" height="9"/></g>
<g id="lb17" transform="translate(60,310)"><rect class="be" x="-15" y="-4.5" width="30" height="9"/></g>
<g id="lb18" transform="translate(60,321)"><rect class="be" x="-15" y="-4.5" width="30" height="9"/></g>
<g id="lb19" transform="translate(60,349)"><rect class="be" x="-15" y="-4.5" width="30" height="9"/></g>
<g id="lb20" transform="translate(60,361)"><rect class="be" x="-15" y="-4.5" width="30" height="9"/></g>
<g id="lb21" transform="translate(60,373)"><rect class="be" x="-15" y="-4.5" width="30" height="9"/></g>
<g id="lb22" transform="translate(60,385)"><rect class="be" x="-15" y="-4.5" width="30" height="9"/></g>
<g id="lb23" transform="translate(60,427)"><rect class="be" x="-15" y="-4.5" width="30" height="9"/></g>
<g id="lb24" transform="translate(60,439)"><rect class="be" x="-15" y="-4.5" width="30" height="9"/></g>
<g id="lb25" transform="translate(60,451)"><rect class="be" x="-15" y="-4.5" width="30" height="9"/></g>
<g id="lb26" transform="translate(60,462)"><rect class="be" x="-15" y="-4.5" width="30" height="9"/></g>
<g id="lb27" transform="translate(60,474)"><rect class="be" x="-15" y="-4.5" width="30" height="9"/></g>
<g id="lb28" transform="translate(60,486)"><rect class="be" x="-15" y="-4.5" width="30" height="9"/></g>
<g id="lb29" transform="translate(60,498)"><rect class="be" x="-15" y="-4.5" width="30" height="9"/></g>
<g id="lb30" transform="translate(60,510)"><rect class="be" x="-15" y="-4.5" width="30" height="9"/></g>
<g id="lb31" transform="translate(60,521)"><rect class="be" x="-15" y="-4.5" width="30" height="9"/></g>
<g id="lb32" transform="translate(60,533)"><rect class="be" x="-15" y="-4.5" width="30" height="9"/></g>
<g id="lb33" transform="translate(60,545)"><rect class="be" x="-15" y="-4.5" width="30" height="9"/></g>
<g id="lb34" transform="translate(60,557)"><rect class="be" x="-15" y="-4.5" width="30" height="9"/></g>
<g id="lb35" transform="translate(60,568)"><rect class="be" x="-15" y="-4.5" width="30" height="9"/></g>
<g id="lb36" transform="translate(60,580)"><rect class="be" x="-15" y="-4.5" width="30" height="9"/></g>
<g id="lb37" transform="translate(60,592)"><rect class="be" x="-15" y="-4.5" width="30" height="9"/></g>
<g id="lb38" transform="translate(60,604)"><rect class="be" x="-15" y="-4.5" width="30" height="9"/></g>
<g id="lb39" transform="translate(60,616)"><rect class="be" x="-15" y="-4.5" width="30" height="9"/></g>
<g id="lb40" transform="translate(60,627)"><rect class="be" x="-15" y="-4.5" width="30" height="9"/></g>
<g id="lb41" transform="translate(60,639)"><rect class="be" x="-15" y="-4.5" width="30" height="9"/></g>
<g id="lb42" transform="translate(60,651)"><rect class="be" x="-15" y="-4.5" width="30" height="9"/></g>
<g id="lb43" transform="translate(60,663)"><rect class="be" x="-15" y="-4.5" width="30" height="9"/></g>
<g id="lb44" transform="translate(60,675)"><rect class="be" x="-15" y="-4.5" width="30" height="9"/></g>
<g id="lb45" transform="translate(60,686)"><rect class="be" x="-15" y="-4.5" width="30" height="9"/></g>
<g id="lb46" transform="translate(60,698)"><rect class="be" x="-15" y="-4.5" width="30" height="9"/></g>
<g id="lb47" transform="translate(60,710)"><rect class="be" x="-15" y="-4.5" width="30" height="9"/></g>
<g id="lb48" transform="translate(60,722)"><rect class="be" x="-15" y="-4.5" width="30" height="9"/></g>
<g id="lb49" transform="translate(60,734)"><rect class="be" x="-15" y="-4.5" width="30" height="9"/></g>
<g id="lb50" transform="translate(60,747)"><rect class="gr" x="-15" y="-4.5" width="30" height="9"/></g>
<g id="lb51" transform="translate(60,759)"><rect class="gr" x="-15" y="-4.5" width="30" height="9"/></g>
<g id="lb52" transform="translate(60,769)"><rect class="gr" x="-15" y="-4.5" width="30" height="9"/></g>
<g id="lb53" transform="translate(60,781)"><rect class="gr" x="-15" y="-4.5" width="30" height="9"/></g>

<g id="rt1" transform="translate(1202,46)"><rect class="be" x="-15" y="-4.5" width="30" height="9"/></g>
<g id="rt2" transform="translate(1240,46)"><rect class="rd" x="-15" y="-4.5" width="30" height="9"/></g>

<g id="c1_1" transform="translate(1238,63)"><rect class="be" x="-15" y="-4.5" width="30" height="9"/></g>
<g id="c1_2" transform="translate(1238,73)"><rect class="be" x="-15" y="-4.5" width="30" height="9"/></g>
<g id="c1_3" transform="translate(1238,85)"><rect class="pu" x="-15" y="-4.5" width="30" height="9"/></g>
<g id="c1_4" transform="translate(1238,97)"><rect class="be" x="-15" y="-4.5" width="30" height="9"/></g>
<g id="c1_5" transform="translate(1238,107)"><rect class="gr" x="-15" y="-4.5" width="30" height="9"/></g>
<g id="c1_6" transform="translate(1238,117)"><rect class="gr" x="-15" y="-4.5" width="30" height="9"/></g>
<g id="c1_7" transform="translate(1238,128)"><rect class="be" x="-15" y="-4.5" width="30" height="9"/></g>
<g id="c1_8" transform="translate(1238,140)"><rect class="be" x="-15" y="-4.5" width="30" height="9"/></g>
<g id="c1_9" transform="translate(1238,150)"><rect class="be" x="-15" y="-4.5" width="30" height="9"/></g>
<g id="c1_10" transform="translate(1238,165)"><rect class="gr" x="-15" y="-4.5" width="30" height="9"/></g>
<g id="c1_11" transform="translate(1238,175)"><rect class="gr" x="-15" y="-4.5" width="30" height="9"/></g>
<g id="c1_12" transform="translate(1238,186)"><rect class="gr" x="-15" y="-4.5" width="30" height="9"/></g>
<g id="c1_13" transform="translate(1238,198)"><rect class="be" x="-15" y="-4.5" width="30" height="9"/></g>
<g id="c1_14" transform="translate(1238,210)"><rect class="be" x="-15" y="-4.5" width="30" height="9"/></g>
<g id="c1_15" transform="translate(1238,222)"><rect class="be" x="-15" y="-4.5" width="30" height="9"/></g>
<g id="c1_16" transform="translate(1238,233)"><rect class="be" x="-15" y="-4.5" width="30" height="9"/></g>
<g id="c1_17" transform="translate(1238,245)"><rect class="be" x="-15" y="-4.5" width="30" height="9"/></g>
<g id="c1_18" transform="translate(1238,255)"><rect class="be" x="-15" y="-4.5" width="30" height="9"/></g>
<g id="c1_19" transform="translate(1238,265)"><rect class="gr" x="-15" y="-4.5" width="30" height="9"/></g>
<g id="c1_20" transform="translate(1238,276)"><rect class="gr" x="-15" y="-4.5" width="30" height="9"/></g>
<g id="c1_21" transform="translate(1238,287)"><rect class="be" x="-15" y="-4.5" width="30" height="9"/></g>
<g id="c1_22" transform="translate(1238,300)"><rect class="be" x="-15" y="-4.5" width="30" height="9"/></g>
<g id="c1_23" transform="translate(1238,313)"><rect class="be" x="-15" y="-4.5" width="30" height="9"/></g>
<g id="c1_24" transform="translate(1238,325)"><rect class="gr" x="-15" y="-4.5" width="30" height="9"/></g>
<g id="c1_25" transform="translate(1238,337)"><rect class="gr" x="-15" y="-4.5" width="30" height="9"/></g>
<g id="c1_26" transform="translate(1238,348)"><rect class="gr" x="-15" y="-4.5" width="30" height="9"/></g>
<g id="c1_27" transform="translate(1238,359)"><rect class="gr" x="-15" y="-4.5" width="30" height="9"/></g>
<g id="c1_28" transform="translate(1238,370)"><rect class="gr" x="-15" y="-4.5" width="30" height="9"/></g>
<g id="c1_29" transform="translate(1238,382)"><rect class="gr" x="-15" y="-4.5" width="30" height="9"/></g>
<g id="c1_30" transform="translate(1238,395)"><rect class="be" x="-15" y="-4.5" width="30" height="9"/></g>
<g id="c1_31" transform="translate(1238,432)"><rect class="gr" x="-15" y="-4.5" width="30" height="9"/></g>
<g id="c1_32" transform="translate(1238,443)"><rect class="gr" x="-15" y="-4.5" width="30" height="9"/></g>
<g id="c1_33" transform="translate(1238,455)"><rect class="gr" x="-15" y="-4.5" width="30" height="9"/></g>
<g id="c1_34" transform="translate(1238,467)"><rect class="gr" x="-15" y="-4.5" width="30" height="9"/></g>
<g id="c1_35" transform="translate(1238,482)"><rect class="be" x="-15" y="-4.5" width="30" height="9"/></g>
<g id="c1_36" transform="translate(1238,495)"><rect class="gr" x="-15" y="-4.5" width="30" height="9"/></g>
<g id="c1_37" transform="translate(1238,507)"><rect class="gr" x="-15" y="-4.5" width="30" height="9"/></g>
<g id="c1_38" transform="translate(1238,518)"><rect class="gr" x="-15" y="-4.5" width="30" height="9"/></g>
<g id="c1_39" transform="translate(1238,529)"><rect class="gr" x="-15" y="-4.5" width="30" height="9"/></g>
<g id="c1_40" transform="translate(1238,540)"><rect class="gr" x="-15" y="-4.5" width="30" height="9"/></g>
<g id="c1_41" transform="translate(1238,551)"><rect class="gr" x="-15" y="-4.5" width="30" height="9"/></g>
<g id="c1_42" transform="translate(1238,562)"><rect class="gr" x="-15" y="-4.5" width="30" height="9"/></g>
<g id="c1_43" transform="translate(1238,574)"><rect class="gr" x="-15" y="-4.5" width="30" height="9"/></g>
<g id="c1_44" transform="translate(1238,590)"><rect class="gr" x="-15" y="-4.5" width="30" height="9"/></g>
<g id="c1_45" transform="translate(1238,602)"><rect class="gr" x="-15" y="-4.5" width="30" height="9"/></g>
<g id="c1_46" transform="translate(1238,613)"><rect class="gr" x="-15" y="-4.5" width="30" height="9"/></g>
<g id="c1_47" transform="translate(1238,624)"><rect class="gr" x="-15" y="-4.5" width="30" height="9"/></g>
<g id="c1_48" transform="translate(1238,636)"><rect class="gr" x="-15" y="-4.5" width="30" height="9"/></g>
<g id="c1_49" transform="translate(1238,648)"><rect class="gr" x="-15" y="-4.5" width="30" height="9"/></g>
<g id="c1_50" transform="translate(1238,660)"><rect class="gr" x="-15" y="-4.5" width="30" height="9"/></g>
<g id="c1_51" transform="translate(1238,672)"><rect class="gr" x="-15" y="-4.5" width="30" height="9"/></g>
<g id="c1_52" transform="translate(1238,683)"><rect class="gr" x="-15" y="-4.5" width="30" height="9"/></g>
<g id="c1_53" transform="translate(1238,694)"><rect class="gr" x="-15" y="-4.5" width="30" height="9"/></g>
<g id="c1_54" transform="translate(1238,706)"><rect class="gr" x="-15" y="-4.5" width="30" height="9"/></g>
<g id="c1_55" transform="translate(1238,717)"><rect class="gr" x="-15" y="-4.5" width="30" height="9"/></g>
<g id="c1_56" transform="translate(1238,728)"><rect class="gr" x="-15" y="-4.5" width="30" height="9"/></g>
<g id="c1_57" transform="translate(1238,739)"><rect class="gr" x="-15" y="-4.5" width="30" height="9"/></g>

<g id="c2_1" transform="translate(1277,62)"><rect class="rd" x="-15" y="-4.5" width="30" height="9"/></g>
<g id="c2_2" transform="translate(1277,73)"><rect class="rd" x="-15" y="-4.5" width="30" height="9"/></g>
<g id="c2_3" transform="translate(1277,84)"><rect class="rd" x="-15" y="-4.5" width="30" height="9"/></g>
<g id="c2_4" transform="translate(1277,96)"><rect class="rd" x="-15" y="-4.5" width="30" height="9"/></g>
<g id="c2_5" transform="translate(1277,107)"><rect class="rd" x="-15" y="-4.5" width="30" height="9"/></g>
<g id="c2_6" transform="translate(1277,128)"><rect class="rd" x="-15" y="-4.5" width="30" height="9"/></g>
<g id="c2_7" transform="translate(1277,140)"><rect class="rd" x="-15" y="-4.5" width="30" height="9"/></g>
<g id="c2_8" transform="translate(1277,152)"><rect class="rd" x="-15" y="-4.5" width="30" height="9"/></g>
<g id="c2_9" transform="translate(1277,165)"><rect class="rd" x="-15" y="-4.5" width="30" height="9"/></g>
<g id="c2_10" transform="translate(1277,176)"><rect class="rd" x="-15" y="-4.5" width="30" height="9"/></g>
<g id="c2_11" transform="translate(1277,187)"><rect class="rd" x="-15" y="-4.5" width="30" height="9"/></g>
<g id="c2_12" transform="translate(1277,198)"><rect class="rd" x="-15" y="-4.5" width="30" height="9"/></g>
<g id="c2_13" transform="translate(1277,212)"><rect class="rd" x="-15" y="-4.5" width="30" height="9"/></g>
<g id="c2_14" transform="translate(1277,223)"><rect class="rd" x="-15" y="-4.5" width="30" height="9"/></g>
<g id="c2_15" transform="translate(1277,233)"><rect class="rd" x="-15" y="-4.5" width="30" height="9"/></g>
<g id="c2_16" transform="translate(1277,245)"><rect class="rd" x="-15" y="-4.5" width="30" height="9"/></g>
<g id="c2_17" transform="translate(1277,255)"><rect class="rd" x="-15" y="-4.5" width="30" height="9"/></g>
<g id="c2_18" transform="translate(1277,265)"><rect class="rd" x="-15" y="-4.5" width="30" height="9"/></g>
<g id="c2_19" transform="translate(1277,276)"><rect class="ye" x="-15" y="-4.5" width="30" height="9"/></g>
<g id="c2_20" transform="translate(1277,287)"><rect class="rd" x="-15" y="-4.5" width="30" height="9"/></g>
<g id="c2_21" transform="translate(1277,300)"><rect class="rd" x="-15" y="-4.5" width="30" height="9"/></g>
<g id="c2_22" transform="translate(1277,325)"><rect class="rd" x="-15" y="-4.5" width="30" height="9"/></g>
<g id="c2_23" transform="translate(1277,347)"><rect class="rd" x="-15" y="-4.5" width="30" height="9"/></g>
<g id="c2_24" transform="translate(1277,358)"><rect class="rd" x="-15" y="-4.5" width="30" height="9"/></g>
<g id="c2_25" transform="translate(1277,381)"><rect class="rd" x="-15" y="-4.5" width="30" height="9"/></g>
<g id="c2_26" transform="translate(1277,395)"><rect class="rd" x="-15" y="-4.5" width="30" height="9"/></g>
<g id="c2_27" transform="translate(1277,432)"><rect class="rd" x="-15" y="-4.5" width="30" height="9"/></g>
<g id="c2_28" transform="translate(1277,453)"><rect class="rd" x="-15" y="-4.5" width="30" height="9"/></g>
<g id="c2_29" transform="translate(1277,482)"><rect class="rd" x="-15" y="-4.5" width="30" height="9"/></g>
<g id="c2_30" transform="translate(1277,498)"><rect class="rd" x="-15" y="-4.5" width="30" height="9"/></g>
<g id="c2_31" transform="translate(1277,519)"><rect class="rd" x="-15" y="-4.5" width="30" height="9"/></g>
<g id="c2_32" transform="translate(1277,541)"><rect class="rd" x="-15" y="-4.5" width="30" height="9"/></g>
<g id="c2_33" transform="translate(1277,563)"><rect class="rd" x="-15" y="-4.5" width="30" height="9"/></g>
<g id="c2_34" transform="translate(1277,591)"><rect class="rd" x="-15" y="-4.5" width="30" height="9"/></g>
<g id="c2_35" transform="translate(1277,603)"><rect class="rd" x="-15" y="-4.5" width="30" height="9"/></g>
<g id="c2_36" transform="translate(1277,614)"><rect class="rd" x="-15" y="-4.5" width="30" height="9"/></g>
<g id="c2_37" transform="translate(1277,626)"><rect class="rd" x="-15" y="-4.5" width="30" height="9"/></g>
<g id="c2_38" transform="translate(1277,637)"><rect class="rd" x="-15" y="-4.5" width="30" height="9"/></g>
<g id="c2_39" transform="translate(1277,648)"><rect class="rd" x="-15" y="-4.5" width="30" height="9"/></g>
<g id="c2_40" transform="translate(1277,728)"><rect class="rd" x="-15" y="-4.5" width="30" height="9"/></g>

<g id="c3_1" transform="translate(1318,63)"><rect class="be" x="-15" y="-3.5" width="30" height="7"/></g>
<g id="c3_2" transform="translate(1318,71)"><rect class="be" x="-15" y="-3.5" width="30" height="7"/></g>
<g id="c3_3" transform="translate(1318,82)"><rect class="be" x="-15" y="-3.5" width="30" height="7"/></g>
<g id="c3_4" transform="translate(1318,89)"><rect class="be" x="-15" y="-3.5" width="30" height="7"/></g>
<g id="c3_5" transform="translate(1318,96)"><rect class="be" x="-15" y="-3.5" width="30" height="7"/></g>
<g id="c3_6" transform="translate(1318,103)"><rect class="be" x="-15" y="-3.5" width="30" height="7"/></g>
<g id="c3_7" transform="translate(1318,111)"><rect class="be" x="-15" y="-3.5" width="30" height="7"/></g>
<g id="c3_8" transform="translate(1318,122)"><rect class="be" x="-15" y="-3.5" width="30" height="7"/></g>
<g id="c3_9" transform="translate(1318,129)"><rect class="be" x="-15" y="-3.5" width="30" height="7"/></g>
<g id="c3_10" transform="translate(1318,139)"><rect class="be" x="-15" y="-3.5" width="30" height="7"/></g>
<g id="c3_11" transform="translate(1318,150)"><rect class="be" x="-15" y="-3.5" width="30" height="7"/></g>
<g id="c3_12" transform="translate(1318,158)"><rect class="be" x="-15" y="-3.5" width="30" height="7"/></g>
<g id="c3_13" transform="translate(1318,167)"><rect class="be" x="-15" y="-3.5" width="30" height="7"/></g>
<g id="c3_14" transform="translate(1318,177)"><rect class="be" x="-15" y="-3.5" width="30" height="7"/></g>
<g id="c3_15" transform="translate(1318,184)"><rect class="be" x="-15" y="-3.5" width="30" height="7"/></g>
<g id="c3_16" transform="translate(1318,193)"><rect class="be" x="-15" y="-3.5" width="30" height="7"/></g>
<g id="c3_17" transform="translate(1318,203)"><rect class="be" x="-15" y="-3.5" width="30" height="7"/></g>
<g id="c3_18" transform="translate(1318,213)"><rect class="be" x="-15" y="-3.5" width="30" height="7"/></g>
<g id="c3_19" transform="translate(1318,222)"><rect class="be" x="-15" y="-3.5" width="30" height="7"/></g>
<g id="c3_20" transform="translate(1318,232)"><rect class="be" x="-15" y="-3.5" width="30" height="7"/></g>
<g id="c3_21" transform="translate(1318,243)"><rect class="be" x="-15" y="-3.5" width="30" height="7"/></g>
<g id="c3_22" transform="translate(1318,254)"><rect class="be" x="-15" y="-3.5" width="30" height="7"/></g>
<g id="c3_23" transform="translate(1318,265)"><rect class="be" x="-15" y="-3.5" width="30" height="7"/></g>
<g id="c3_24" transform="translate(1318,276)"><rect class="be" x="-15" y="-3.5" width="30" height="7"/></g>
<g id="c3_25" transform="translate(1318,287)"><rect class="be" x="-15" y="-3.5" width="30" height="7"/></g>
<g id="c3_26" transform="translate(1318,298)"><rect class="be" x="-15" y="-3.5" width="30" height="7"/></g>
<g id="c3_27" transform="translate(1318,309)"><rect class="be" x="-15" y="-3.5" width="30" height="7"/></g>
<g id="c3_28" transform="translate(1318,320)"><rect class="be" x="-15" y="-3.5" width="30" height="7"/></g>
<g id="c3_29" transform="translate(1318,331)"><rect class="be" x="-15" y="-3.5" width="30" height="7"/></g>
<g id="c3_30" transform="translate(1318,342)"><rect class="be" x="-15" y="-3.5" width="30" height="7"/></g>
<g id="c3_31" transform="translate(1318,353)"><rect class="be" x="-15" y="-3.5" width="30" height="7"/></g>
<g id="c3_32" transform="translate(1318,364)"><rect class="be" x="-15" y="-3.5" width="30" height="7"/></g>
<g id="c3_33" transform="translate(1318,375)"><rect class="be" x="-15" y="-3.5" width="30" height="7"/></g>
<g id="c3_34" transform="translate(1318,386)"><rect class="be" x="-15" y="-3.5" width="30" height="7"/></g>
<g id="c3_35" transform="translate(1318,397)"><rect class="be" x="-15" y="-3.5" width="30" height="7"/></g>
<g id="c3_36" transform="translate(1318,408)"><rect class="be" x="-15" y="-3.5" width="30" height="7"/></g>
<g id="c3_37" transform="translate(1318,419)"><rect class="be" x="-15" y="-3.5" width="30" height="7"/></g>
<g id="c3_38" transform="translate(1318,430)"><rect class="be" x="-15" y="-3.5" width="30" height="7"/></g>
<g id="c3_39" transform="translate(1318,441)"><rect class="be" x="-15" y="-3.5" width="30" height="7"/></g>
<g id="c3_40" transform="translate(1318,452)"><rect class="be" x="-15" y="-3.5" width="30" height="7"/></g>
<g id="c3_41" transform="translate(1318,463)"><rect class="be" x="-15" y="-3.5" width="30" height="7"/></g>
<g id="c3_42" transform="translate(1318,474)"><rect class="be" x="-15" y="-3.5" width="30" height="7"/></g>
<g id="c3_43" transform="translate(1318,487)"><rect class="be" x="-15" y="-3.5" width="30" height="7"/></g>
<g id="c3_44" transform="translate(1318,498)"><rect class="be" x="-15" y="-3.5" width="30" height="7"/></g>
<g id="c3_45" transform="translate(1318,510)"><rect class="be" x="-15" y="-3.5" width="30" height="7"/></g>
<g id="c3_46" transform="translate(1318,520)"><rect class="be" x="-15" y="-3.5" width="30" height="7"/></g>
<g id="c3_47" transform="translate(1318,530)"><rect class="be" x="-15" y="-3.5" width="30" height="7"/></g>
<g id="c3_48" transform="translate(1318,541)"><rect class="be" x="-15" y="-3.5" width="30" height="7"/></g>
<g id="c3_49" transform="translate(1318,550)"><rect class="be" x="-15" y="-3.5" width="30" height="7"/></g>
<g id="c3_50" transform="translate(1318,560)"><rect class="be" x="-15" y="-3.5" width="30" height="7"/></g>
<g id="c3_51" transform="translate(1318,570)"><rect class="be" x="-15" y="-3.5" width="30" height="7"/></g>
<g id="c3_52" transform="translate(1318,587)"><rect class="be" x="-15" y="-3.5" width="30" height="7"/></g>
<g id="c3_53" transform="translate(1318,598)"><rect class="be" x="-15" y="-3.5" width="30" height="7"/></g>
<g id="c3_54" transform="translate(1318,610)"><rect class="be" x="-15" y="-3.5" width="30" height="7"/></g>
<g id="c3_55" transform="translate(1318,620)"><rect class="be" x="-15" y="-3.5" width="30" height="7"/></g>
<g id="c3_56" transform="translate(1318,630)"><rect class="be" x="-15" y="-3.5" width="30" height="7"/></g>
<g id="c3_57" transform="translate(1318,639)"><rect class="be" x="-15" y="-3.5" width="30" height="7"/></g>
<g id="c3_58" transform="translate(1318,650)"><rect class="be" x="-15" y="-3.5" width="30" height="7"/></g>
<g id="c3_59" transform="translate(1318,660)"><rect class="be" x="-15" y="-3.5" width="30" height="7"/></g>
<g id="c3_60" transform="translate(1318,670)"><rect class="be" x="-15" y="-3.5" width="30" height="7"/></g>
<g id="c3_61" transform="translate(1318,680)"><rect class="be" x="-15" y="-3.5" width="30" height="7"/></g>
<g id="c3_62" transform="translate(1318,690)"><rect class="be" x="-15" y="-3.5" width="30" height="7"/></g>
<g id="c3_63" transform="translate(1318,700)"><rect class="be" x="-15" y="-3.5" width="30" height="7"/></g>
<g id="c3_64" transform="translate(1318,710)"><rect class="be" x="-15" y="-3.5" width="30" height="7"/></g>
<g id="c3_65" transform="translate(1318,720)"><rect class="be" x="-15" y="-3.5" width="30" height="7"/></g>
<g id="c3_66" transform="translate(1318,730)"><rect class="be" x="-15" y="-3.5" width="30" height="7"/></g>
<g id="c3_67" transform="translate(1318,742)"><rect class="be" x="-15" y="-3.5" width="30" height="7"/></g>
<g id="c3_68" transform="translate(1318,754)"><rect class="be" x="-15" y="-3.5" width="30" height="7"/></g>
<g id="c3_69" transform="translate(1318,766)"><rect class="be" x="-15" y="-3.5" width="30" height="7"/></g>

<g id="c4_1" transform="translate(1366,62)"><rect class="rd" x="-15" y="-4.5" width="30" height="9"/></g>
<g id="c4_2" transform="translate(1366,72)"><rect class="rd" x="-15" y="-4.5" width="30" height="9"/></g>
<g id="c4_3" transform="translate(1366,87)"><rect class="rd" x="-15" y="-4.5" width="30" height="9"/></g>
<g id="c4_4" transform="translate(1366,102)"><rect class="rd" x="-15" y="-4.5" width="30" height="9"/></g>
<g id="c4_5" transform="translate(1366,122)"><rect class="rd" x="-15" y="-4.5" width="30" height="9"/></g>
<g id="c4_6" transform="translate(1366,146)"><rect class="rd" x="-15" y="-4.5" width="30" height="9"/></g>
<g id="c4_7" transform="translate(1366,165)"><rect class="rd" x="-15" y="-4.5" width="30" height="9"/></g>
<g id="c4_8" transform="translate(1366,201)"><rect class="rd" x="-15" y="-4.5" width="30" height="9"/></g>
<g id="c4_9" transform="translate(1366,236)"><rect class="rd" x="-15" y="-4.5" width="30" height="9"/></g>
<g id="c4_10" transform="translate(1366,271)"><rect class="rd" x="-15" y="-4.5" width="30" height="9"/></g>
<g id="c4_11" transform="translate(1366,307)"><rect class="rd" x="-15" y="-4.5" width="30" height="9"/></g>
<g id="c4_12" transform="translate(1366,346)"><rect class="rd" x="-15" y="-4.5" width="30" height="9"/></g>
<g id="c4_13" transform="translate(1366,372)"><rect class="rd" x="-15" y="-4.5" width="30" height="9"/></g>
<g id="c4_14" transform="translate(1366,436)"><rect class="rd" x="-15" y="-4.5" width="30" height="9"/></g>
<g id="c4_15" transform="translate(1366,462)"><rect class="rd" x="-15" y="-4.5" width="30" height="9"/></g>
<g id="c4_16" transform="translate(1366,503)"><rect class="rd" x="-15" y="-4.5" width="30" height="9"/></g>
<g id="c4_17" transform="translate(1366,522)"><rect class="rd" x="-15" y="-4.5" width="30" height="9"/></g>
<g id="c4_18" transform="translate(1366,542)"><rect class="rd" x="-15" y="-4.5" width="30" height="9"/></g>
<g id="c4_19" transform="translate(1366,562)"><rect class="rd" x="-15" y="-4.5" width="30" height="9"/></g>
<g id="c4_20" transform="translate(1366,588)"><rect class="rd" x="-15" y="-4.5" width="30" height="9"/></g>
<g id="c4_21" transform="translate(1366,613)"><rect class="rd" x="-15" y="-4.5" width="30" height="9"/></g>
<g id="c4_22" transform="translate(1366,633)"><rect class="rd" x="-15" y="-4.5" width="30" height="9"/></g>
<g id="c4_23" transform="translate(1366,653)"><rect class="rd" x="-15" y="-4.5" width="30" height="9"/></g>
<g id="c4_24" transform="translate(1366,673)"><rect class="rd" x="-15" y="-4.5" width="30" height="9"/></g>
<g id="c4_25" transform="translate(1366,693)"><rect class="rd" x="-15" y="-4.5" width="30" height="9"/></g>
<g id="c4_26" transform="translate(1366,710)"><rect class="rd" x="-15" y="-4.5" width="30" height="9"/></g>
<g id="c4_27" transform="translate(1366,721)"><rect class="rd" x="-15" y="-4.5" width="30" height="9"/></g>
<g id="c4_28" transform="translate(1366,732)"><rect class="rd" x="-15" y="-4.5" width="30" height="9"/></g>

<g id="bt1" transform="translate(127,764)"><rect class="be" x="-15" y="-4.5" width="30" height="9"/></g>
<g id="bt2" transform="translate(159,764)"><rect class="be" x="-15" y="-4.5" width="30" height="9"/></g>
<g id="bt3" transform="translate(193,764)"><rect class="be" x="-15" y="-4.5" width="30" height="9"/></g>
<g id="bb1" transform="translate(95,779)"><rect class="be" x="-15" y="-4.5" width="30" height="9"/></g>
<g id="bb2" transform="translate(225,779)"><rect class="be" x="-15" y="-4.5" width="30" height="9"/></g>
<g id="bb3" transform="translate(262,779)"><rect class="be" x="-15" y="-4.5" width="30" height="9"/></g>
<g id="bb4" transform="translate(298,779)"><rect class="be" x="-15" y="-4.5" width="30" height="9"/></g>
<g id="bb5" transform="translate(333,779)"><rect class="be" x="-15" y="-4.5" width="30" height="9"/></g>
<g id="bb6" transform="translate(368,779)"><rect class="be" x="-15" y="-4.5" width="30" height="9"/></g>
<g id="bb7" transform="translate(404,779)"><rect class="be" x="-15" y="-4.5" width="30" height="9"/></g>
<g id="bb8" transform="translate(440,779)"><rect class="be" x="-15" y="-4.5" width="30" height="9"/></g>
<g id="bb9" transform="translate(475,779)"><rect class="be" x="-15" y="-4.5" width="30" height="9"/></g>
<g id="bb10" transform="translate(520,779)"><rect class="be" x="-15" y="-4.5" width="30" height="9"/></g>
<g id="bb11" transform="translate(555,779)"><rect class="be" x="-15" y="-4.5" width="30" height="9"/></g>
<g id="bb12" transform="translate(592,779)"><rect class="be" x="-15" y="-4.5" width="30" height="9"/></g>
<g id="bb13" transform="translate(628,779)"><rect class="be" x="-15" y="-4.5" width="30" height="9"/></g>
<g id="bb14" transform="translate(665,779)"><rect class="be" x="-15" y="-4.5" width="30" height="9"/></g>
<g id="bb15" transform="translate(699,779)"><rect class="be" x="-15" y="-4.5" width="30" height="9"/></g>
<g id="bb16" transform="translate(742,779)"><rect class="be" x="-15" y="-4.5" width="30" height="9"/></g>
<g id="bb17" transform="translate(773,779)"><rect class="be" x="-15" y="-4.5" width="30" height="9"/></g>
<g id="bb18" transform="translate(808,779)"><rect class="be" x="-15" y="-4.5" width="30" height="9"/></g>
<g id="bb19" transform="translate(843,779)"><rect class="be" x="-15" y="-4.5" width="30" height="9"/></g>
<g id="bb20" transform="translate(878,779)"><rect class="be" x="-15" y="-4.5" width="30" height="9"/></g>
<g id="bb21" transform="translate(913,779)"><rect class="be" x="-15" y="-4.5" width="30" height="9"/></g>
<g id="bb22" transform="translate(948,779)"><rect class="be" x="-15" y="-4.5" width="30" height="9"/></g>
<g id="bb23" transform="translate(983,779)"><rect class="be" x="-15" y="-4.5" width="30" height="9"/></g>
<g id="bb24" transform="translate(1018,779)"><rect class="be" x="-15" y="-4.5" width="30" height="9"/></g>
<g id="bb25" transform="translate(1053,779)"><rect class="be" x="-15" y="-4.5" width="30" height="9"/></g>
<g id="bb26" transform="translate(1088,779)"><rect class="be" x="-15" y="-4.5" width="30" height="9"/></g>
<g id="bb27" transform="translate(1123,779)"><rect class="be" x="-15" y="-4.5" width="30" height="9"/></g>
<g id="bb28" transform="translate(1160,779)"><rect class="be" x="-15" y="-4.5" width="30" height="9"/></g>
<g id="br1" transform="translate(97,798)"><rect class="rd" x="-14" y="-4.5" width="28" height="9"/></g>
<g id="br2" transform="translate(127,798)"><rect class="rd" x="-14" y="-4.5" width="28" height="9"/></g>
<g id="br3" transform="translate(160,798)"><rect class="rd" x="-14" y="-4.5" width="28" height="9"/></g>
<g id="br4" transform="translate(193,798)"><rect class="rd" x="-14" y="-4.5" width="28" height="9"/></g>
<g id="br5" transform="translate(225,798)"><rect class="rd" x="-14" y="-4.5" width="28" height="9"/></g>
<g id="br6" transform="translate(262,798)"><rect class="rd" x="-14" y="-4.5" width="28" height="9"/></g>
<g id="br7" transform="translate(298,798)"><rect class="rd" x="-14" y="-4.5" width="28" height="9"/></g>
<g id="br8" transform="translate(333,798)"><rect class="rd" x="-14" y="-4.5" width="28" height="9"/></g>
<g id="br9" transform="translate(368,798)"><rect class="rd" x="-14" y="-4.5" width="28" height="9"/></g>
<g id="br10" transform="translate(404,798)"><rect class="rd" x="-14" y="-4.5" width="28" height="9"/></g>
<g id="br11" transform="translate(440,798)"><rect class="rd" x="-14" y="-4.5" width="28" height="9"/></g>
<g id="br12" transform="translate(475,798)"><rect class="rd" x="-14" y="-4.5" width="28" height="9"/></g>
<g id="br13" transform="translate(520,798)"><rect class="rd" x="-14" y="-4.5" width="28" height="9"/></g>
<g id="br14" transform="translate(555,798)"><rect class="rd" x="-14" y="-4.5" width="28" height="9"/></g>
<g id="br15" transform="translate(592,798)"><rect class="rd" x="-14" y="-4.5" width="28" height="9"/></g>
<g id="br16" transform="translate(628,798)"><rect class="rd" x="-14" y="-4.5" width="28" height="9"/></g>
<g id="br17" transform="translate(665,798)"><rect class="rd" x="-14" y="-4.5" width="28" height="9"/></g>
<g id="br18" transform="translate(699,798)"><rect class="rd" x="-14" y="-4.5" width="28" height="9"/></g>
<g id="br19" transform="translate(742,798)"><rect class="rd" x="-14" y="-4.5" width="28" height="9"/></g>
<g id="br20" transform="translate(773,798)"><rect class="rd" x="-14" y="-4.5" width="28" height="9"/></g>
<g id="br21" transform="translate(808,798)"><rect class="rd" x="-14" y="-4.5" width="28" height="9"/></g>
<g id="br22" transform="translate(843,798)"><rect class="rd" x="-14" y="-4.5" width="28" height="9"/></g>
<g id="br23" transform="translate(878,798)"><rect class="rd" x="-14" y="-4.5" width="28" height="9"/></g>
<g id="br24" transform="translate(913,798)"><rect class="rd" x="-14" y="-4.5" width="28" height="9"/></g>
<g id="br25" transform="translate(948,798)"><rect class="rd" x="-14" y="-4.5" width="28" height="9"/></g>
<g id="br26" transform="translate(983,798)"><rect class="rd" x="-14" y="-4.5" width="28" height="9"/></g>
<g id="br27" transform="translate(1018,798)"><rect class="rd" x="-14" y="-4.5" width="28" height="9"/></g>
<g id="br28" transform="translate(1053,798)"><rect class="rd" x="-14" y="-4.5" width="28" height="9"/></g>
<g id="br29" transform="translate(1088,798)"><rect class="rd" x="-14" y="-4.5" width="28" height="9"/></g>
<g id="br30" transform="translate(1123,798)"><rect class="rd" x="-14" y="-4.5" width="28" height="9"/></g>
<g id="br31" transform="translate(1160,798)"><rect class="rd" x="-14" y="-4.5" width="28" height="9"/></g>
</g>

<g id="annotations">
<ellipse class="bl" cx="691" cy="76" rx="23" ry="11"/>
<ellipse class="bl" cx="731" cy="90" rx="24" ry="10"/>
<ellipse class="bl" cx="693" cy="232" rx="24" ry="11"/>
<path class="bla" d="M691 65C688 18 745 14 746 62" marker-end="url(#ab)"/>
<path class="bla" d="M668 78C625 85 622 130 640 147C660 165 678 180 678 210" marker-end="url(#ab)"/>
<ellipse class="mg" cx="849" cy="226" rx="22" ry="11"/>
<ellipse class="mg" cx="784" cy="488" rx="22" ry="12"/>
<ellipse class="mg" cx="997" cy="521" rx="20" ry="9"/>
<ellipse class="mg" cx="1320" cy="627" rx="22" ry="10"/>
<ellipse class="mg" cx="1320" cy="637" rx="22" ry="10"/>
<ellipse class="mg" cx="1367" cy="633" rx="20" ry="10"/>
<ellipse class="mg" cx="1240" cy="717" rx="20" ry="9"/>
<path class="mga" d="M1312 616C1285 540 1200 380 1118 297C1070 250 990 228 885 226" marker-end="url(#am)"/>
<path class="mga" d="M1298 634C1200 630 1075 600 1045 530C1015 450 880 410 806 468" marker-end="url(#am)"/>
<path class="mga" d="M1220 716C1100 710 1015 640 1011 545" marker-end="url(#am)"/>
<path class="mga" d="M1368 643C1366 700 1330 716 1274 717" marker-end="url(#am)"/>
<path class="mga" d="M1362 623C1358 560 1325 565 1321 609" marker-end="url(#am)"/>
<path class="mga" d="M1358 643C1352 700 1322 700 1320 659" marker-end="url(#am)"/>
</g>
</svg>
